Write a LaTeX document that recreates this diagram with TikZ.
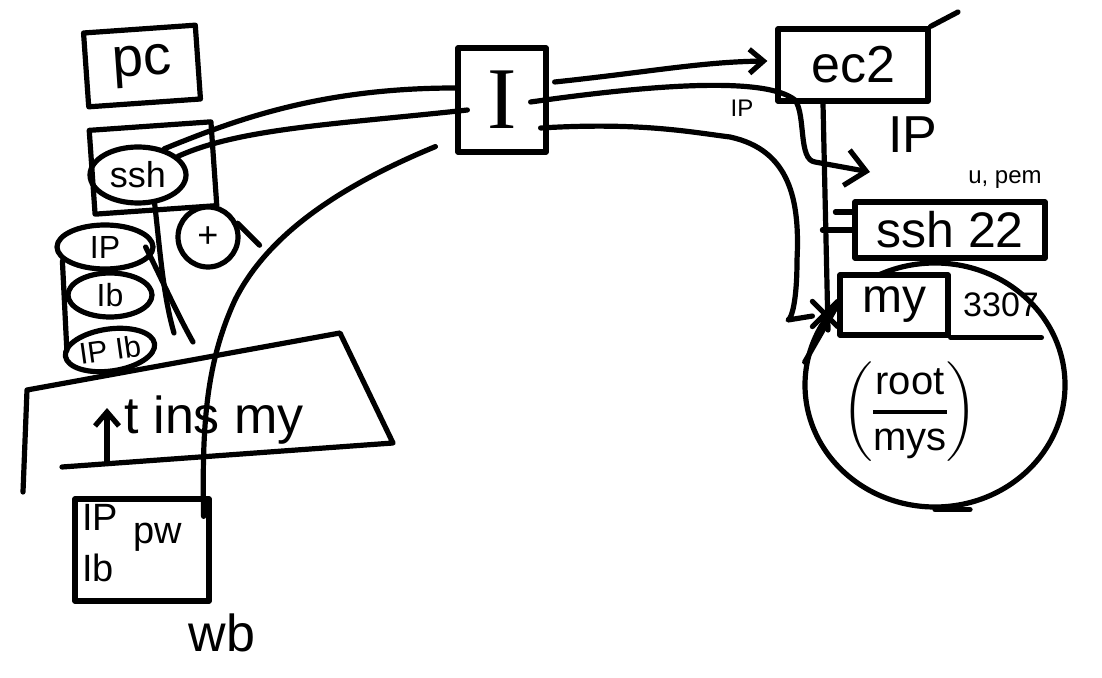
\documentclass[tikz,border=0pt]{standalone}
\usepackage{amsmath}
\usepackage{fontspec}
\setmainfont{Liberation Sans}
\newfontfamily\serifI{Liberation Serif}
\usetikzlibrary{shapes.geometric, shapes.misc, arrows.meta, positioning}

\begin{document}
\begin{tikzpicture}[
  x=0.5pt, y=-0.5pt,
  line width=2.6pt, line cap=round, line join=round,
  every node/.style={inner sep=0pt},
  txt/.style={font=\fontsize{#1}{#1}\selectfont},
  box/.style={draw, rectangle},
  oval/.style={draw, ellipse},
  arr/.style={-{Straight Barb[length=7pt, width=12pt]}},
]
\path[fill=white, use as bounding box] (0,0) rectangle (1102,678);

% --- left: pc, ssh key and the ip list
\node[box, txt=28, minimum width=56pt, minimum height=37pt, rotate=4] (pc) at (142,66) {pc};
\node[box, minimum width=61pt, minimum height=42pt, rotate=4] (sshbox) at (153,168) {};
\node[oval, txt=18, minimum width=48pt, minimum height=28pt] (sshov) at (138,175) {ssh};
\node[circle, draw, txt=18, minimum size=30pt] (plus) at (208,237) {+};
\draw (plus.25) -- ++(22,22);

\node[oval, txt=16, minimum width=48pt, minimum height=22pt] (ip1) at (105,247) {IP};
\node[oval, txt=16, minimum width=42pt, minimum height=22pt] (ib1) at (110,295) {Ib};
\node[oval, txt=15, minimum width=45pt, minimum height=21pt, rotate=8] (ipb) at (110,350) {IP Ib};
\draw ([xshift=4pt,yshift=-7pt]ip1.west) -- ([xshift=2pt,yshift=3pt]ipb.west);

\coordinate (dropa) at (174,333);
\coordinate (dropb) at (193,342);
\draw (sshov.-60) .. controls (160,250) and (163,295) .. (dropa);
\draw ([xshift=-5pt]ip1.east) .. controls (160,275) and (175,310) .. (dropb);

% --- apt install panel
\draw (23,492) -- (27,390) -- (340,333) -- (393,443) -- (62,467);
\coordinate (aptlo) at (107,462);
\coordinate (aptup) at (107,408);
\draw[arr] (aptlo) -- (aptup);
\node[txt=26, anchor=west] (apt) at (122,420) {t ins my};

% --- pw box
\node[box, minimum width=67pt, minimum height=51pt] (pw) at (142,550) {};
\node[txt=19] (pwip) at (100,517) {IP};
\node[txt=19] (pwib) at (98,568) {Ib};
\node[txt=19] (pwpw) at (158,537) {pw};
\node[txt=26] (wb) at (222,633) {wb};

% --- middle box
\node[box, txt=44, minimum width=44pt, minimum height=52pt] (ibox) at (502,100) {\serifI I};

\draw (sshov.45) .. controls (235,120) and (320,88) .. ([yshift=6pt]ibox.west);
\draw (sshov.25) .. controls (240,128) and (340,124) .. ([xshift=6pt,yshift=-5pt]ibox.west);
\draw ([xshift=-10pt,yshift=4pt]ibox.south west) .. controls (330,190) and (265,240) .. (235,300)
  .. controls (205,365) and (202,430) .. ([xshift=-4pt,yshift=-10pt]pw.north east);

% --- right: ec2 and the db
\node[box, txt=26, minimum width=75pt, minimum height=36pt] (ec2) at (853,65) {ec2};
\coordinate (tick) at (958,12);
\draw (ec2.north east) -- (tick);
\node[txt=26] (ipec) at (913,135) {IP};
\node[txt=12] (iplink) at (742,108) {IP};
\node[txt=12] (upem) at (1005,180) {u, pem};

\node[oval, minimum width=130pt, minimum height=122pt] (db) at (935,385) {};
\draw (db.south) -- ++(35,0);
\node[box, fill=white, txt=25, minimum width=95pt, minimum height=28pt] (ssh22) at (950,230) {ssh 22};
\node[box, fill=white, txt=24, minimum width=54pt, minimum height=30pt] (my) at (894,305) {my};
\node[txt=17, right=5pt of my] (port) {3307};
\draw (my.south east) -- (my.south -| port.east);
\node[txt=20] (frac) at (910,412) {$\genfrac{(}{)}{2pt}{0}{\text{root}}{\text{mys}}$};

\coordinate (vbot) at (828,330);
\draw ([xshift=-15pt]ec2.south) -- (vbot);
\draw (ssh22.west) -- ++(-30,0);
\draw ([yshift=9pt]ssh22.west) -- ++(-17,0);

% --- links from the middle box
\draw[arr] ([xshift=3pt,yshift=9pt]ibox.east) .. controls (650,72) and (700,62) .. ([xshift=-4pt,yshift=2pt]ec2.west);
\coordinate (ipin) at (870,172);
\draw[-{Straight Barb[length=10pt, width=18pt]}] ([xshift=-9pt,yshift=-1pt]ibox.east)
  .. controls (650,85) and (765,76) .. (795,100) .. controls (806,115) and (798,160) .. (815,162) -- (ipin);
\node[cross out, draw, minimum size=10pt] (xmark) at (825,314) {};
\draw ([xshift=-4pt,yshift=-14pt]ibox.east) .. controls (640,122) and (690,132) .. (730,137)
  .. controls (790,150) and (800,200) .. (797,260) .. controls (797,300) and (792,318) .. (788,320) -- (xmark);
\draw (my.west) -- (db.170);
\end{tikzpicture}
\end{document}
